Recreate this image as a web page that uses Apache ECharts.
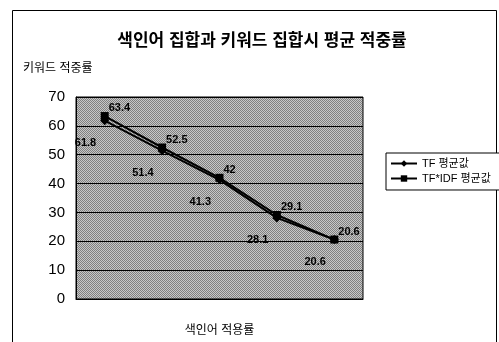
<!DOCTYPE html>
<html>
<head>
<meta charset="utf-8">
<script src="https://cdn.jsdelivr.net/npm/echarts@6/dist/echarts.min.js"></script>
<style>
  html, body { margin: 0; padding: 0; background: #ffffff; }
  #chart { width: 499px; height: 342px; }
</style>
</head>
<body>
<div id="chart"></div>
<script>
// Index-term application steps (x axis has no tick labels)
const categories = ['1', '2', '3', '4', '5'];
// Average hit rate for the TF weighting
const tfValues = [61.8, 51.4, 41.3, 28.1, 20.6];
// Average hit rate for the TF*IDF weighting
const tfidfValues = [63.4, 52.5, 42, 29.1, 20.6];
const yTicks = { min: 0, max: 70, interval: 10 };

const FONT = '"Liberation Sans", "Noto Sans CJK KR", sans-serif';

// Small checker tile giving the plot area its grey dithered look
function makeDither() {
  const c = document.createElement('canvas');
  c.width = 2; c.height = 2;
  const g = c.getContext('2d');
  g.fillStyle = '#c8c8c8'; g.fillRect(0, 0, 2, 2);
  g.fillStyle = '#808080'; g.fillRect(0, 0, 1, 1); g.fillRect(1, 1, 1, 1);
  return c;
}

const chart = echarts.init(document.getElementById('chart'), null, { renderer: 'canvas' });

chart.setOption({
  backgroundColor: '#ffffff',
  animation: false,
  title: {
    text: '색인어 집합과 키워드 집합시 평균 적중률',
    left: 257,
    textAlign: 'center',
    top: 28,
    textStyle: { fontFamily: FONT, fontSize: 17, fontWeight: 'bold', color: '#000' }
  },
  graphic: [{
    type: 'rect',
    shape: { x: 12.5, y: 10.5, width: 484, height: 340 },
    style: { fill: 'none', stroke: '#000', lineWidth: 1 },
    silent: true
  }],
  legend: {
    orient: 'vertical',
    left: 386,
    top: 153,
    width: 120,
    padding: [5, 30, 6, 4],
    itemGap: 4,
    itemWidth: 26,
    itemHeight: 8,
    borderColor: '#000',
    borderWidth: 1,
    backgroundColor: '#fff',
    textStyle: { fontFamily: FONT, fontSize: 11, color: '#000' },
    data: ['TF 평균값', 'TF*IDF 평균값']
  },
  grid: {
    left: 76, right: 136, top: 97, bottom: 37,
    show: true,
    backgroundColor: { image: makeDither(), repeat: 'repeat' },
    borderColor: '#000',
    borderWidth: 1
  },
  xAxis: {
    type: 'category',
    data: categories,
    boundaryGap: true,
    name: '색인어 적용률',
    nameLocation: 'middle',
    nameGap: 26,
    nameTextStyle: { fontFamily: FONT, fontSize: 12, color: '#000' },
    axisLine: { lineStyle: { color: '#000' } },
    axisTick: { show: false },
    axisLabel: { show: false },
    splitLine: { show: false }
  },
  yAxis: {
    type: 'value',
    min: yTicks.min,
    max: yTicks.max,
    interval: yTicks.interval,
    name: '키워드 적중률',
    nameLocation: 'end',
    nameGap: 22,
    nameTextStyle: {
      fontFamily: FONT, fontSize: 12, color: '#000',
      align: 'left', padding: [0, 0, 0, -53]
    },
    axisLine: { show: true, lineStyle: { color: '#000' } },
    axisTick: { show: false },
    axisLabel: { fontFamily: FONT, fontSize: 15, color: '#000', margin: 11 },
    splitLine: { show: true, lineStyle: { color: '#000', width: 1 } }
  },
  series: [
    {
      name: 'TF 평균값',
      type: 'line',
      data: tfValues,
      symbol: 'diamond',
      symbolSize: 9,
      itemStyle: { color: '#000' },
      lineStyle: { color: '#000', width: 2 },
      label: {
        show: true,
        position: 'left',
        distance: 4,
        offset: [0, 22],
        fontFamily: FONT,
        fontSize: 11,
        fontWeight: 'bold',
        color: '#000'
      },
      z: 2
    },
    {
      name: 'TF*IDF 평균값',
      type: 'line',
      data: tfidfValues,
      symbol: 'rect',
      symbolSize: 8,
      itemStyle: { color: '#000' },
      lineStyle: { color: '#000', width: 2 },
      label: {
        show: true,
        position: 'right',
        distance: 2,
        offset: [-2, -8],
        fontFamily: FONT,
        fontSize: 11,
        fontWeight: 'bold',
        color: '#000'
      },
      z: 3
    }
  ]
});
</script>
</body>
</html>
